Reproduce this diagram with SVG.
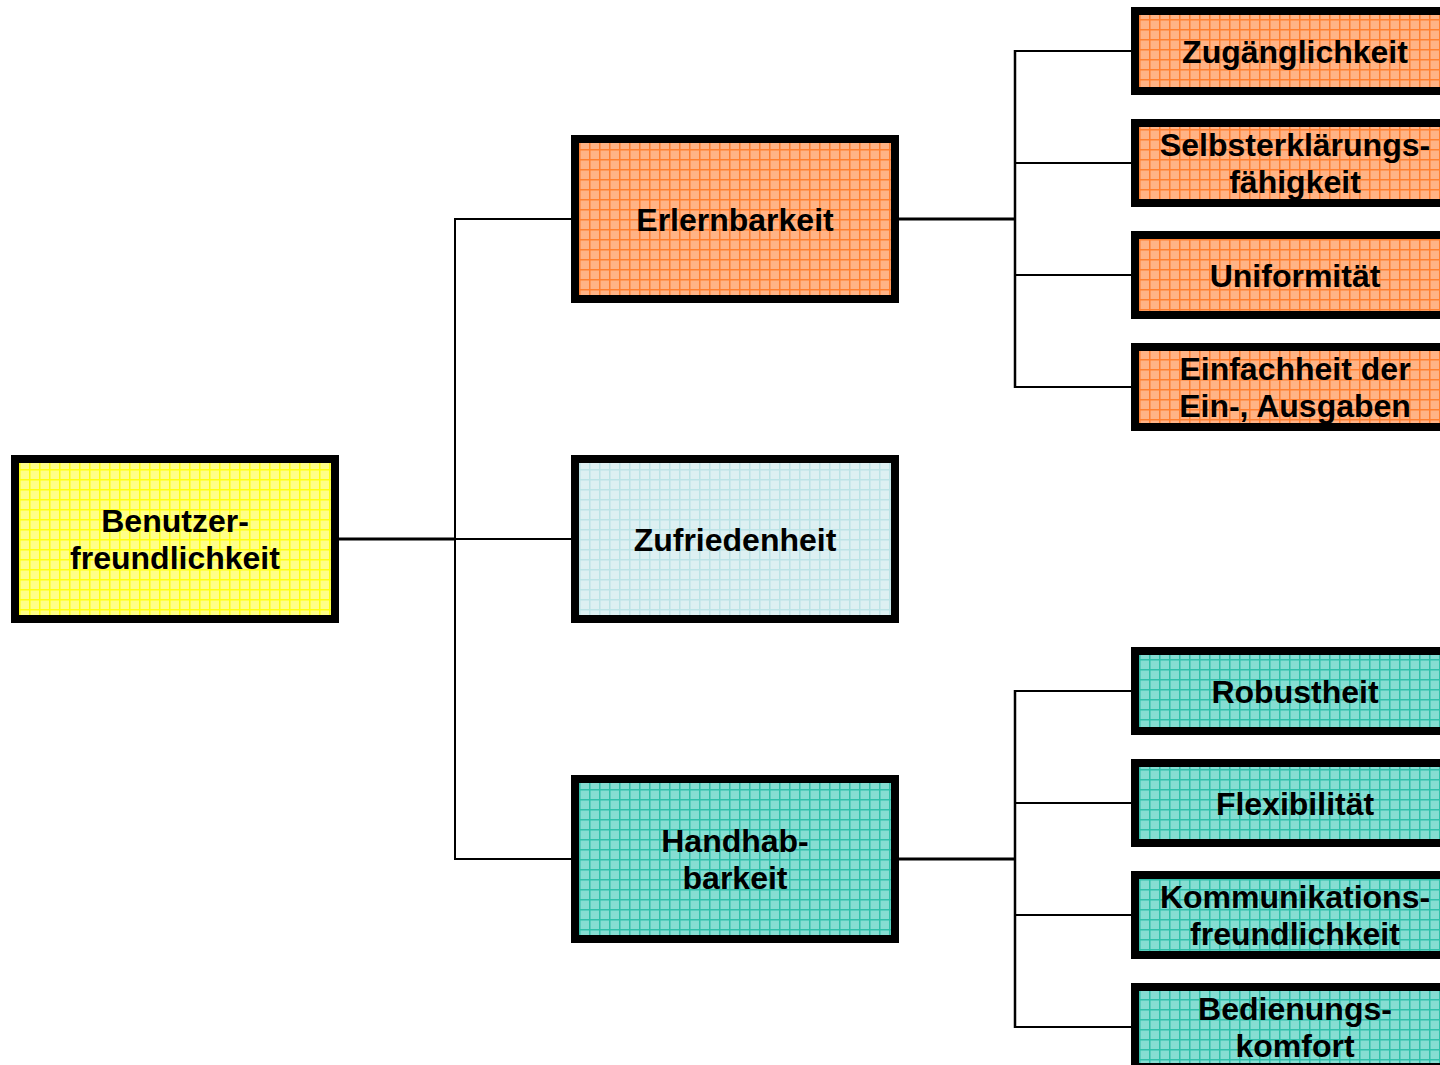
<svg xmlns="http://www.w3.org/2000/svg" width="1440" height="1065" viewBox="0 0 1440 1065">
<defs>
<pattern id="pY" width="10" height="10" patternUnits="userSpaceOnUse" x="9" y="9"><rect width="10" height="10" fill="#FFFF88"/><rect width="1.5" height="10" fill="#FFFF10"/><rect width="10" height="1.5" fill="#FFFF10"/></pattern>
<pattern id="pO" width="10" height="10" patternUnits="userSpaceOnUse" x="9" y="9"><rect width="10" height="10" fill="#FFB385"/><rect width="1.5" height="10" fill="#FF8030"/><rect width="10" height="1.5" fill="#FF8030"/></pattern>
<pattern id="pB" width="10" height="10" patternUnits="userSpaceOnUse" x="9" y="9"><rect width="10" height="10" fill="#DDF0F2"/><rect width="1.5" height="10" fill="#BCE3E6"/><rect width="10" height="1.5" fill="#BCE3E6"/></pattern>
<pattern id="pT" width="10" height="10" patternUnits="userSpaceOnUse" x="9" y="9"><rect width="10" height="10" fill="#85DDD2"/><rect width="1.5" height="10" fill="#30C0AA"/><rect width="10" height="1.5" fill="#30C0AA"/></pattern>
</defs>
<style>
.box{stroke:#000;stroke-width:8}
.t{font-family:"Liberation Sans",Arial,sans-serif;font-weight:bold;font-size:32px;fill:#000;text-anchor:middle}
.c{stroke:#000;fill:none}
</style>
<rect width="1440" height="1065" fill="#fff"/>
<g id="connectors">
<line class="c" x1="339" y1="539" x2="455" y2="539" stroke-width="3"/>
<line class="c" x1="455" y1="218" x2="455" y2="860" stroke-width="2"/>
<line class="c" x1="454" y1="219" x2="571" y2="219" stroke-width="2"/>
<line class="c" x1="455" y1="539" x2="571" y2="539" stroke-width="2"/>
<line class="c" x1="454" y1="859" x2="571" y2="859" stroke-width="2"/>
<line class="c" x1="899" y1="219" x2="1015" y2="219" stroke-width="3"/>
<line class="c" x1="1015" y1="50" x2="1015" y2="388" stroke-width="2.5"/>
<line class="c" x1="1014" y1="51" x2="1131" y2="51" stroke-width="2"/>
<line class="c" x1="1015" y1="163" x2="1131" y2="163" stroke-width="2"/>
<line class="c" x1="1015" y1="275" x2="1131" y2="275" stroke-width="2"/>
<line class="c" x1="1014" y1="387" x2="1131" y2="387" stroke-width="2"/>
<line class="c" x1="899" y1="859" x2="1015" y2="859" stroke-width="3"/>
<line class="c" x1="1015" y1="690" x2="1015" y2="1028" stroke-width="2.5"/>
<line class="c" x1="1014" y1="691" x2="1131" y2="691" stroke-width="2"/>
<line class="c" x1="1015" y1="803" x2="1131" y2="803" stroke-width="2"/>
<line class="c" x1="1015" y1="915" x2="1131" y2="915" stroke-width="2"/>
<line class="c" x1="1014" y1="1027" x2="1131" y2="1027" stroke-width="2"/>
</g>
<g id="benutzerfreundlichkeit"><rect class="box" x="15" y="459" width="320" height="160" fill="url(#pY)"/><text class="t" x="175" y="531.5">Benutzer-</text><text class="t" x="175" y="569">freundlichkeit</text></g>
<g id="erlernbarkeit"><rect class="box" x="575" y="139" width="320" height="160" fill="url(#pO)"/><text class="t" x="735" y="230.5">Erlernbarkeit</text></g>
<g id="zufriedenheit"><rect class="box" x="575" y="459" width="320" height="160" fill="url(#pB)"/><text class="t" x="735" y="550.5">Zufriedenheit</text></g>
<g id="handhabbarkeit"><rect class="box" x="575" y="779" width="320" height="160" fill="url(#pT)"/><text class="t" x="735" y="851.5">Handhab-</text><text class="t" x="735" y="889">barkeit</text></g>
<g id="zugaenglichkeit"><rect class="box" x="1135" y="11" width="320" height="80" fill="url(#pO)"/><text class="t" x="1295" y="62.5">Zugänglichkeit</text></g>
<g id="selbsterklaerungsfaehigkeit"><rect class="box" x="1135" y="123" width="320" height="80" fill="url(#pO)"/><text class="t" x="1295" y="155.5">Selbsterklärungs-</text><text class="t" x="1295" y="193">fähigkeit</text></g>
<g id="uniformitaet"><rect class="box" x="1135" y="235" width="320" height="80" fill="url(#pO)"/><text class="t" x="1295" y="286.5">Uniformität</text></g>
<g id="einfachheit"><rect class="box" x="1135" y="347" width="320" height="80" fill="url(#pO)"/><text class="t" x="1295" y="379.5">Einfachheit der</text><text class="t" x="1295" y="417">Ein-, Ausgaben</text></g>
<g id="robustheit"><rect class="box" x="1135" y="651" width="320" height="80" fill="url(#pT)"/><text class="t" x="1295" y="702.5">Robustheit</text></g>
<g id="flexibilitaet"><rect class="box" x="1135" y="763" width="320" height="80" fill="url(#pT)"/><text class="t" x="1295" y="814.5">Flexibilität</text></g>
<g id="kommunikationsfreundlichkeit"><rect class="box" x="1135" y="875" width="320" height="80" fill="url(#pT)"/><text class="t" x="1295" y="907.5">Kommunikations-</text><text class="t" x="1295" y="945">freundlichkeit</text></g>
<g id="bedienungskomfort"><rect class="box" x="1135" y="987" width="320" height="80" fill="url(#pT)"/><text class="t" x="1295" y="1019.5">Bedienungs-</text><text class="t" x="1295" y="1057">komfort</text></g>
</svg>
